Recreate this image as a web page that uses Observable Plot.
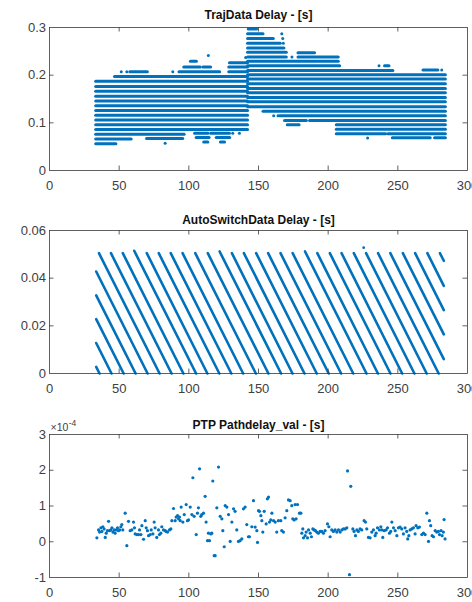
<!DOCTYPE html>
<html><head><meta charset="utf-8">
<script src="https://cdn.jsdelivr.net/npm/d3@7"></script>
<script src="https://cdn.jsdelivr.net/npm/@observablehq/plot@0.6"></script>
<style>
body{margin:0;background:#fff;}
#chart svg{display:block;}
</style>
</head><body><div id="chart"></div>
<script>
// ---------- shared axis data ----------
const xTicks = [0, 50, 100, 150, 200, 250, 300];
const xInnerTicks = [50, 100, 150, 200, 250];

// ---------- panel 1: TrajData Delay (rows of dense samples, [x1, x2, y] in s) ----------
const trajRowsLeft = [
  [33.5, 48, 0.056], [33.5, 59, 0.066], [70, 96, 0.067], [33.5, 97, 0.076],
  [33.5, 142.5, 0.086], [33.5, 142.5, 0.096], [33.5, 142.5, 0.106], [33.5, 142.5, 0.116],
  [33.5, 142.5, 0.126], [33.5, 142.5, 0.136], [33.5, 142.5, 0.146], [33.5, 142.5, 0.156],
  [33.5, 142.5, 0.166], [33.5, 142.5, 0.176], [33.5, 142.5, 0.187], [47, 142.5, 0.197],
  [58, 70.6, 0.207], [93.3, 122.5, 0.207], [129, 142.5, 0.207],
  [96.7, 108.6, 0.217], [110.5, 116, 0.217], [129, 142.5, 0.217],
  [129.5, 142.5, 0.226], [101.5, 105.8, 0.229],
  [104.5, 114, 0.078], [116, 129.5, 0.078], [105.6, 114.9, 0.069], [120, 129.7, 0.069],
  [111, 114, 0.060], [123, 126, 0.060]
];
const trajRowsRight = [
  [143, 149, 0.297], [142.5, 153.6, 0.287], [142.5, 161, 0.277], [142.5, 166, 0.267],
  [142.5, 168.6, 0.257], [142.5, 170.3, 0.248], [178.7, 190.6, 0.247],
  [142.5, 170.3, 0.238], [178.7, 207.6, 0.238], [142.5, 207.6, 0.229],
  [142.5, 208.6, 0.220], [240.8, 244, 0.220], [142.5, 246.8, 0.210], [268.4, 279.1, 0.211],
  [142.5, 284.5, 0.201], [142.5, 284.5, 0.192], [142.5, 284.5, 0.182], [142.5, 284.5, 0.172],
  [142.5, 284.5, 0.163], [142.5, 284.5, 0.153], [142.5, 284.5, 0.144], [142.5, 284.5, 0.134],
  [153.6, 284.5, 0.1245], [165.5, 284.5, 0.115], [169, 184.7, 0.105], [187, 284.5, 0.105],
  [171, 179.5, 0.096], [206.2, 284.5, 0.096], [206.2, 284.5, 0.0865],
  [206.2, 241.6, 0.077], [243.3, 284.5, 0.077], [246.4, 273.6, 0.0685], [276.7, 284.5, 0.0685]
];
const trajDotX = [51.5, 55.5, 88.5, 114, 140.8, 131.5, 136.3, 83, 166.7, 167.4, 167.8, 174, 236.5, 281.5, 160.9, 164, 228.3];
const trajDotY = [0.207, 0.207, 0.207, 0.241, 0.237, 0.078, 0.078, 0.057, 0.287, 0.277, 0.267, 0.238, 0.220, 0.211, 0.115, 0.115, 0.068];

// ---------- panel 2: AutoSwitchData Delay (sawtooth strokes) ----------
const swX1 = [33.5, 33.5, 33.5, 33.5, 33.5,
  35.5, 44.1, 52.6, 60.8, 69.8, 78.4, 87.0, 95.5, 104.6, 113.6, 122.1, 130.9, 139.5, 148.3, 156.9,
  165.8, 174.5, 183.4, 192.2, 201.2, 209.6, 218.4, 227.2, 235.8, 244.6, 253.6, 262.4, 271.2, 280.2];
const swY1 = [0.0428, 0.0328, 0.0228, 0.0128, 0.0028,
  0.0505, 0.0505, 0.0505, 0.0515, 0.0505, 0.0505, 0.0505, 0.0505, 0.0505, 0.0505, 0.0512, 0.0505, 0.0505, 0.0505, 0.0505,
  0.0505, 0.0505, 0.0512, 0.0505, 0.0505, 0.0505, 0.0505, 0.0505, 0.0505, 0.0505, 0.0505, 0.0505, 0.0505, 0.0505];
const swX2 = [70.4, 61.8, 53.2, 44.5, 35.9,
  79.0, 87.6, 96.1, 105.2, 113.3, 121.9, 130.5, 139.0, 148.1, 157.1, 166.2, 174.4, 183.0, 191.8, 200.4,
  209.3, 218.0, 227.5, 235.7, 244.7, 253.1, 261.9, 270.7, 279.3, 283, 283, 283, 283, 283];
const swY2 = [0, 0, 0, 0, 0,
  0, 0, 0, 0, 0, 0, 0, 0, 0, 0, 0, 0, 0, 0, 0,
  0, 0, 0, 0, 0, 0, 0, 0, 0, 0.0060, 0.0164, 0.0266, 0.0368, 0.0473];
const swDotX = [225.5];
const swDotY = [0.0528];

// ---------- panel 3: PTP Pathdelay_val (values in units of 1e-4 s) ----------
const ptpX = [34.0,35.2,35.9,36.9,37.6,38.3,39.2,40.0,40.7,41.6,42.4,43.1,44.0,44.8,45.5,46.4,47.1,47.9,48.8,49.5,
  50.3,51.2,51.9,52.6,54.3,55.5,56.7,57.9,59.1,60.3,61.0,61.5,62.7,63.9,64.6,65.6,66.3,67.5,68.7,69.4,
  70.3,71.1,72.3,73.0,74.2,75.1,75.8,77.0,78.2,78.9,79.9,80.6,81.8,83.0,83.7,84.7,86.1,87.1,87.8,89.0,
  90.2,90.9,91.9,92.6,93.3,93.8,94.5,95.7,96.7,98.1,99.0,99.8,101.0,102.2,102.9,103.8,105.3,106.2,106.9,107.7,
  108.6,109.3,110.5,111.7,112.4,113.4,114.1,114.8,115.8,116.5,117.2,118.2,118.9,120.1,121.3,122.5,123.7,124.4,125.4,126.1,
  127.3,128.5,129.7,130.9,132.1,133.2,134.4,135.6,
  136.8,138.0,139.2,140.4,141.6,142.8,143.5,145.2,146.4,147.6,148.8,149.3,150.0,150.7,151.7,152.4,153.1,154.1,155.5,156.4,
  157.2,157.9,158.8,159.6,160.8,162.0,163.1,164.3,166.0,166.7,167.9,169.1,170.3,171.5,172.7,173.9,174.6,175.6,176.3,177.0,
  178.0,179.4,180.4,181.1,181.8,182.3,183.5,184.2,185.2,185.9,187.1,188.0,189.0,189.9,190.9,191.8,193.0,194.2,195.4,196.6,
  197.8,199.5,200.5,201.4,202.6,203.8,205.0,206.2,207.4,208.6,209.8,211.0,212.2,213.4,213.9,215.3,216.2,217.7,218.6,219.6,
  220.6,221.7,222.9,224.1,225.8,226.8,227.7,228.9,230.1,231.3,232.5,233.7,234.4,235.4,236.8,237.8,238.5,239.2,240.2,241.6,
  242.6,244.0,244.9,245.7,246.9,248.1,249.3,250.4,251.6,252.8,254.0,255.2,256.4,257.1,257.9,258.8,260.0,261.2,262.4,263.1,
  264.3,265.5,267.2,268.4,269.6,270.8,272.0,272.7,273.6,274.6,275.6,276.8,277.9,279.1,279.9,281.0,281.8,282.7,283.2,283.9];
const ptpY = [0.11,0.33,0.27,0.39,0.29,0.42,0.36,0.12,0.24,0.31,0.57,0.31,0.33,0.39,0.27,0.33,0.24,0.33,0.39,0.31,
  0.33,0.42,0.48,0.33,0.80,-0.11,0.57,0.31,0.33,0.55,0.39,0.22,0.20,0.20,0.33,0.20,0.45,0.07,0.59,0.39,
  0.31,0.17,0.20,0.33,0.22,0.55,0.39,0.12,0.33,0.20,0.24,0.42,0.33,0.31,0.29,0.27,0.33,0.36,0.59,0.93,
  0.59,0.69,0.73,0.64,0.69,0.59,0.97,0.55,0.76,1.04,0.59,0.61,0.97,0.76,1.79,0.71,0.20,0.80,0.95,2.04,
  0.71,0.76,0.80,1.27,0.55,0.03,0.24,0.03,0.22,0.24,1.70,-0.39,-0.39,0.95,2.09,0.71,0.64,0.31,-0.14,1.01,
  0.97,0.76,0.01,0.55,0.92,0.85,0.33,0.01,
  0.03,0.08,0.92,0.97,0.48,0.14,0.14,0.42,1.15,0.41,0.31,-0.02,0.87,0.85,0.73,0.59,0.27,0.85,0.50,1.20,
  1.25,0.55,0.61,0.80,0.59,0.55,0.27,0.59,0.59,0.31,0.27,0.67,0.87,1.17,1.15,1.01,0.64,0.61,1.04,0.64,
  1.04,0.80,0.80,0.24,0.36,0.11,0.17,0.27,0.11,0.33,0.24,0.14,0.36,0.33,0.31,0.27,0.24,0.29,0.29,0.24,
  0.31,0.50,0.42,0.14,0.33,0.29,0.33,0.27,0.33,0.27,0.33,0.36,0.36,0.39,1.98,-0.92,1.55,0.36,0.29,0.17,
  0.33,0.29,0.36,0.33,0.59,0.55,0.36,0.12,0.11,0.27,0.33,0.17,0.24,0.39,0.33,0.42,0.33,0.12,0.31,0.33,
  0.39,0.24,0.29,0.55,0.39,0.31,0.17,0.39,0.41,0.36,0.22,0.39,0.29,0.08,0.17,0.33,0.36,0.39,0.22,0.45,
  0.39,0.41,0.20,0.24,0.20,0.80,0.01,0.59,0.45,0.17,0.14,0.31,0.27,0.29,0.20,0.31,0.17,0.27,0.62,0.08];

// ---------- build tables ----------
const toRows = arr => arr.map(([x1, x2, y]) => ({x1, x2, y}));
const trajRows = toRows(trajRowsLeft).concat(toRows(trajRowsRight));
const trajDots = trajDotX.map((x, i) => ({x, y: trajDotY[i]}));
const swLines = swX1.map((x1, i) => ({x1, y1: swY1[i], x2: swX2[i], y2: swY2[i]}));
const swDots = swDotX.map((x, i) => ({x, y: swDotY[i]}));
const ptp = ptpX.map((x, i) => ({x, y: ptpY[i]}));

const blue = "#0072BD";
const axisColor = "#3a3a3a";
const labelColor = "#404040";
const W = 472, ML = 49, MR = 5;

function panel(o) {
  const plotW = W - ML - MR;
  const plotH = o.height - o.marginTop - o.marginBottom;
  const tl = 4.5;
  return Plot.plot({
    width: W, height: o.height,
    marginLeft: ML, marginRight: MR, marginTop: o.marginTop, marginBottom: o.marginBottom,
    style: {fontFamily: "'Liberation Sans', Arial, Helvetica, sans-serif", background: "#ffffff"},
    x: {domain: [0, 300], label: null},
    y: {domain: o.yDomain, label: null},
    marks: [
      ...o.marks,
      Plot.frame({stroke: axisColor, strokeWidth: 0.8}),
      Plot.tickX(xInnerTicks, {x: d => d, insetTop: plotH - tl, stroke: axisColor, strokeWidth: 0.8}),
      Plot.tickX(xInnerTicks, {x: d => d, insetBottom: plotH - tl, stroke: axisColor, strokeWidth: 0.8}),
      Plot.tickY(o.yInner, {y: d => d, insetRight: plotW - tl, stroke: axisColor, strokeWidth: 0.8}),
      Plot.tickY(o.yInner, {y: d => d, insetLeft: plotW - tl, stroke: axisColor, strokeWidth: 0.8}),
      Plot.axisX(xTicks, {tickSize: 0, tickPadding: 10.5, fontSize: 13, color: labelColor, label: null}),
      Plot.axisY(o.yTicks, {tickSize: 0, tickPadding: 3.5, fontSize: 13, color: labelColor, label: null, tickFormat: d => String(d)}),
      Plot.text([o.title], {text: d => d, frameAnchor: "top", dy: o.titleDy, lineAnchor: "bottom",
        fontSize: 12, fontWeight: "bold", fill: "#111"}),
      ...(o.extra || [])
    ]
  });
}

const chart = document.getElementById("chart");

chart.appendChild(panel({
  title: "TrajData Delay - [s]", height: 200, marginTop: 27, marginBottom: 30, titleDy: -8.7,
  yDomain: [0, 0.3], yTicks: [0, 0.1, 0.2, 0.3], yInner: [0.1, 0.2],
  marks: [
    Plot.ruleY(trajRows, {y: "y", x1: "x1", x2: "x2", stroke: blue, strokeWidth: 3, strokeLinecap: "round"}),
    Plot.dot(trajDots, {x: "x", y: "y", r: 1.5, fill: blue, stroke: null})
  ]
}));

chart.appendChild(panel({
  title: "AutoSwitchData Delay - [s]", height: 200, marginTop: 30, marginBottom: 27, titleDy: -6.7,
  yDomain: [0, 0.06], yTicks: [0, 0.02, 0.04, 0.06], yInner: [0.02, 0.04],
  marks: [
    Plot.link(swLines, {x1: "x1", y1: "y1", x2: "x2", y2: "y2", stroke: blue, strokeWidth: 2.6, strokeLinecap: "round"}),
    Plot.dot(swDots, {x: "x", y: "y", r: 1.4, fill: blue, stroke: null})
  ]
}));

chart.appendChild(panel({
  title: "PTP Pathdelay_val - [s]", height: 202, marginTop: 34, marginBottom: 25, titleDy: -6,
  yDomain: [-1, 3], yTicks: [-1, 0, 1, 2, 3], yInner: [0, 1, 2],
  marks: [
    Plot.dot(ptp, {x: "x", y: "y", r: 1.6, fill: blue, stroke: null})
  ],
  extra: [
    Plot.text(["×10"], {text: d => d, frameAnchor: "top-left", dx: 1, dy: -3.6, lineAnchor: "bottom",
      textAnchor: "start", fontSize: 10.5, fill: labelColor}),
    Plot.text(["-4"], {text: d => d, frameAnchor: "top-left", dx: 19.2, dy: -8.2, lineAnchor: "bottom",
      textAnchor: "start", fontSize: 8.5, fill: labelColor})
  ]
}));
</script>
</body></html>
